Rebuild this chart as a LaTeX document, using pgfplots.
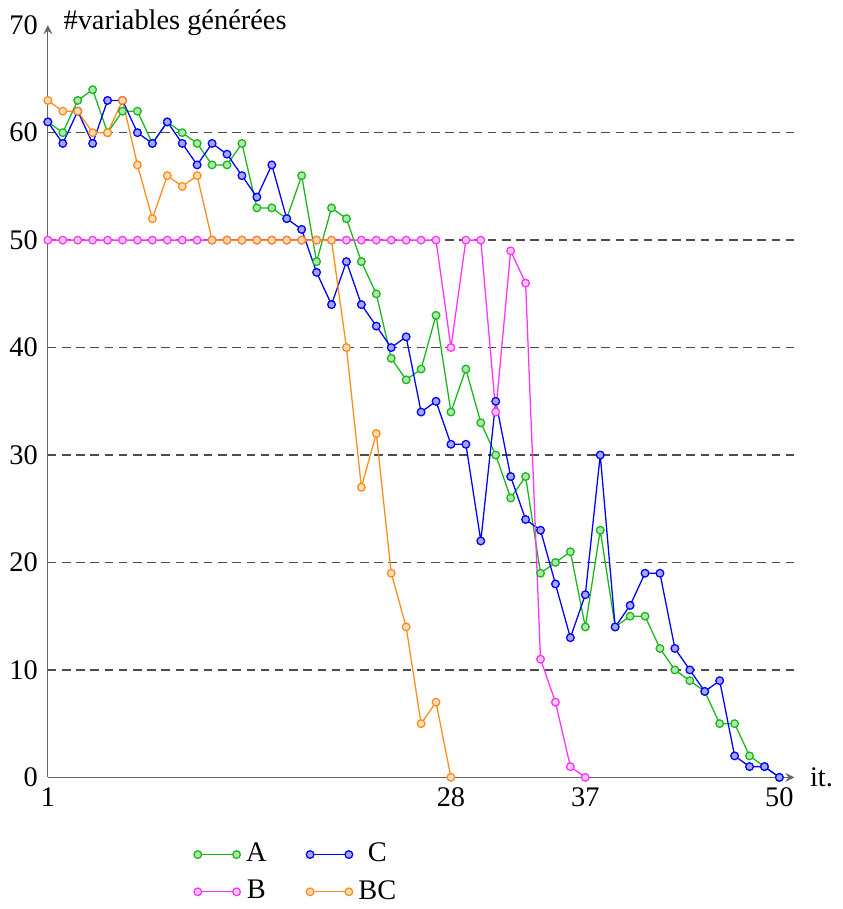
\documentclass[border=0pt]{standalone}
\usepackage{fontspec}
\setmainfont{Liberation Serif}
\usepackage{pgfplots}
\pgfplotsset{compat=1.18}
\definecolor{cA}{rgb}{0.1,0.72,0.1}
\definecolor{cC}{rgb}{0,0,1}
\definecolor{cB}{rgb}{1,0.2,1}
\definecolor{cBC}{rgb}{1,0.55,0.1}
\begin{document}
\begin{tikzpicture}
\begin{axis}[
  scale only axis,
  width=263pt, height=265pt,
  xmin=1, xmax=51, ymin=0, ymax=70,
  axis lines=left,
  axis line style={draw=black!60},
  xtick={1,28,37,50},
  ytick={0,10,...,70},
  major tick length=0pt,
  extra y ticks={10,20,...,60},
  extra y tick labels={},
  extra y tick style={grid=major, major grid style={black!70, dash pattern=on 3pt off 2pt, line width=0.5pt}},
  /pgf/number format/assume math mode=true,
  tick label style={font=\normalsize},
  xlabel={it.},
  ylabel={\#variables générées},
  every axis x label/.style={at={(axis description cs:1,0)}, anchor=west, xshift=2pt},
  every axis y label/.style={at={(axis description cs:0,1)}, anchor=west, xshift=2pt, yshift=1pt},
  legend columns=2,
  legend style={at={(0.335,-0.079)}, anchor=north, draw=none, font=\normalsize, inner sep=0pt, row sep=1pt,
    /tikz/every even column/.append style={column sep=12pt}},
  legend image code/.code={\draw[mark repeat=2,mark phase=1,#1] plot coordinates {(0cm,0cm) (0.24cm,0cm) (0.48cm,0cm)};},
  every axis plot/.append style={line width=0.45pt, mark=*, mark size=1.35pt},
]
\addplot[color=cA, mark options={fill=cA!35, draw=cA}] coordinates {
(1,61)(2,60)(3,63)(4,64)(5,60)(6,62)(7,62)(8,59)(9,61)(10,60)
(11,59)(12,57)(13,57)(14,59)(15,53)(16,53)(17,52)(18,56)(19,48)(20,53)
(21,52)(22,48)(23,45)(24,39)(25,37)(26,38)(27,43)(28,34)(29,38)(30,33)
(31,30)(32,26)(33,28)(34,19)(35,20)(36,21)(37,14)(38,23)(39,14)(40,15)
(41,15)(42,12)(43,10)(44,9)(45,8)(46,5)(47,5)(48,2)(49,1)(50,0)};
\addlegendentry{A}
\addplot[color=cC, mark options={fill=cC!35, draw=cC}] coordinates {
(1,61)(2,59)(3,62)(4,59)(5,63)(6,63)(7,60)(8,59)(9,61)(10,59)
(11,57)(12,59)(13,58)(14,56)(15,54)(16,57)(17,52)(18,51)(19,47)(20,44)
(21,48)(22,44)(23,42)(24,40)(25,41)(26,34)(27,35)(28,31)(29,31)(30,22)
(31,35)(32,28)(33,24)(34,23)(35,18)(36,13)(37,17)(38,30)(39,14)(40,16)
(41,19)(42,19)(43,12)(44,10)(45,8)(46,9)(47,2)(48,1)(49,1)(50,0)};
\addlegendentry{C}
\addplot[color=cB, mark options={fill=cB!25, draw=cB}] coordinates {
(1,50)(2,50)(3,50)(4,50)(5,50)(6,50)(7,50)(8,50)(9,50)(10,50)
(11,50)(12,50)(13,50)(14,50)(15,50)(16,50)(17,50)(18,50)(19,50)(20,50)
(21,50)(22,50)(23,50)(24,50)(25,50)(26,50)(27,50)(28,40)(29,50)(30,50)
(31,34)(32,49)(33,46)(34,11)(35,7)(36,1)(37,0)};
\addlegendentry{B}
\addplot[color=cBC, mark options={fill=cBC!30, draw=cBC}] coordinates {
(1,63)(2,62)(3,62)(4,60)(5,60)(6,63)(7,57)(8,52)(9,56)(10,55)
(11,56)(12,50)(13,50)(14,50)(15,50)(16,50)(17,50)(18,50)(19,50)(20,50)
(21,40)(22,27)(23,32)(24,19)(25,14)(26,5)(27,7)(28,0)};
\addlegendentry{BC}
\end{axis}
\end{tikzpicture}
\end{document}
